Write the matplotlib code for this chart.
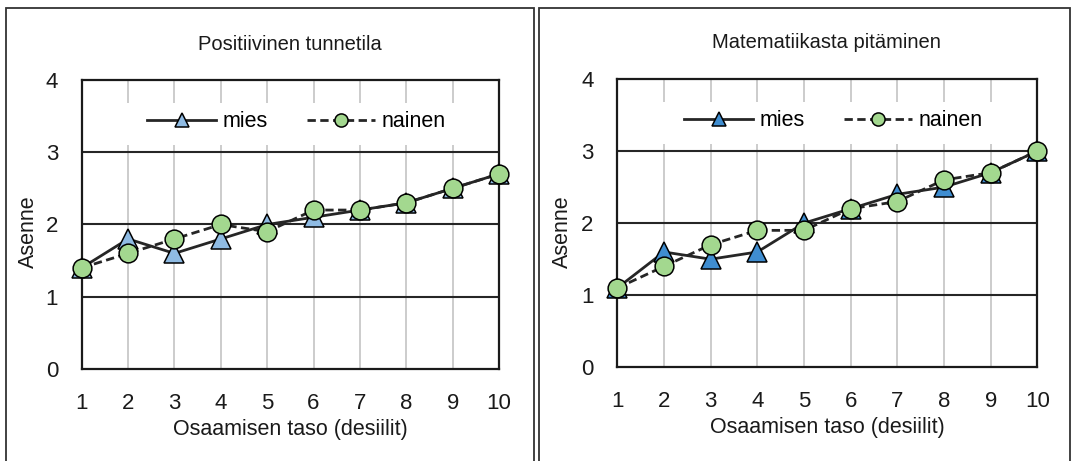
import matplotlib.pyplot as plt
from matplotlib.patches import Rectangle
import numpy as np

plt.rcParams['font.family'] = ['Liberation Sans', 'DejaVu Sans']

# decile levels and attitude means
deciles = [1, 2, 3, 4, 5, 6, 7, 8, 9, 10]

tunne_mies = [1.4, 1.8, 1.6, 1.8, 2.0, 2.1, 2.2, 2.3, 2.5, 2.7]
tunne_nainen = [1.4, 1.6, 1.8, 2.0, 1.9, 2.2, 2.2, 2.3, 2.5, 2.7]

pito_mies = [1.1, 1.6, 1.5, 1.6, 2.0, 2.2, 2.4, 2.5, 2.7, 3.0]
pito_nainen = [1.1, 1.4, 1.7, 1.9, 1.9, 2.2, 2.3, 2.6, 2.7, 3.0]

titles = ['Positiivinen tunnetila', 'Matematiikasta pitäminen']
y_ticks = [0, 1, 2, 3, 4]

W, H = 1073, 461
fig = plt.figure(figsize=(W / 100, H / 100), dpi=100)

# panel frames
for x0, x1 in [(6, 534), (539, 1070)]:
    fig.patches.append(Rectangle((x0 / W, -0.05), (x1 - x0) / W, 1.05 - 8 / H,
                                 transform=fig.transFigure, fill=False,
                                 edgecolor='#333333', linewidth=1.3))

axes_pos = [[81.7 / W, 92 / H, 417.3 / W, 289 / H],
            [617.3 / W, 93.7 / H, 420 / W, 288.3 / H]]
title_pos = [(290 / W, 1 - 45 / H), (826 / W, 1 - 43 / H)]
ylabel_x = [28 / W, 562 / W]
tri_colors = ['#8fbbe3', '#3f8dd0']
circle_color = '#a3d88f'
line_color = '#262626'
text_color = '#1a1a1a'

series = [(tunne_mies, tunne_nainen), (pito_mies, pito_nainen)]

for i in range(2):
    ax = fig.add_axes(axes_pos[i])
    mies, nainen = series[i]

    # vertical light grid, horizontal dark grid
    for d in deciles[1:-1]:
        ax.axvline(d, color='#c4c4c4', lw=1.2, zorder=0)
    for yv in y_ticks[1:-1]:
        ax.axhline(yv, color='#262626', lw=1.5, zorder=1)

    # white band behind the legend
    ax.add_patch(Rectangle((0.003, 0.775), 0.994, 0.145, transform=ax.transAxes,
                           facecolor='white', edgecolor='none', zorder=0.5))

    ax.plot(deciles, mies, color=line_color, lw=2.0, marker='^', markersize=14.5,
            markerfacecolor=tri_colors[i], markeredgecolor='black', markeredgewidth=1.1,
            label='mies', zorder=3, clip_on=False)
    ax.plot(deciles, nainen, color=line_color, lw=2.0, ls=(0, (3, 1.6)), marker='o',
            markersize=13.5, markerfacecolor=circle_color, markeredgecolor='black',
            markeredgewidth=1.1, label='nainen', zorder=4, clip_on=False)

    ax.set_xlim(1, 10)
    ax.set_ylim(0, 4)
    ax.set_xticks(deciles)
    ax.set_yticks(y_ticks)
    ax.tick_params(length=0, labelsize=16, pad=17, colors=text_color)
    ax.tick_params(axis='y', pad=17)
    for s in ax.spines.values():
        s.set_linewidth(1.6)
        s.set_color(text_color)

    ax.set_xlabel('Osaamisen taso (desiilit)', fontsize=15.5, labelpad=4, color=text_color)
    fig.text(ylabel_x[i], 1 - 232 / H, 'Asenne', rotation=90, fontsize=15.5,
             ha='center', va='center', color=text_color)
    fig.text(title_pos[i][0], title_pos[i][1], titles[i], fontsize=14.5,
             ha='center', va='center', color=text_color)

    ax.legend(loc='center', bbox_to_anchor=(0.515, 0.855), ncol=2, frameon=False,
              fontsize=15.5, markerscale=0.7, handlelength=3.2, handletextpad=0.3,
              columnspacing=1.8)

fig.savefig('out.png', dpi=100)
